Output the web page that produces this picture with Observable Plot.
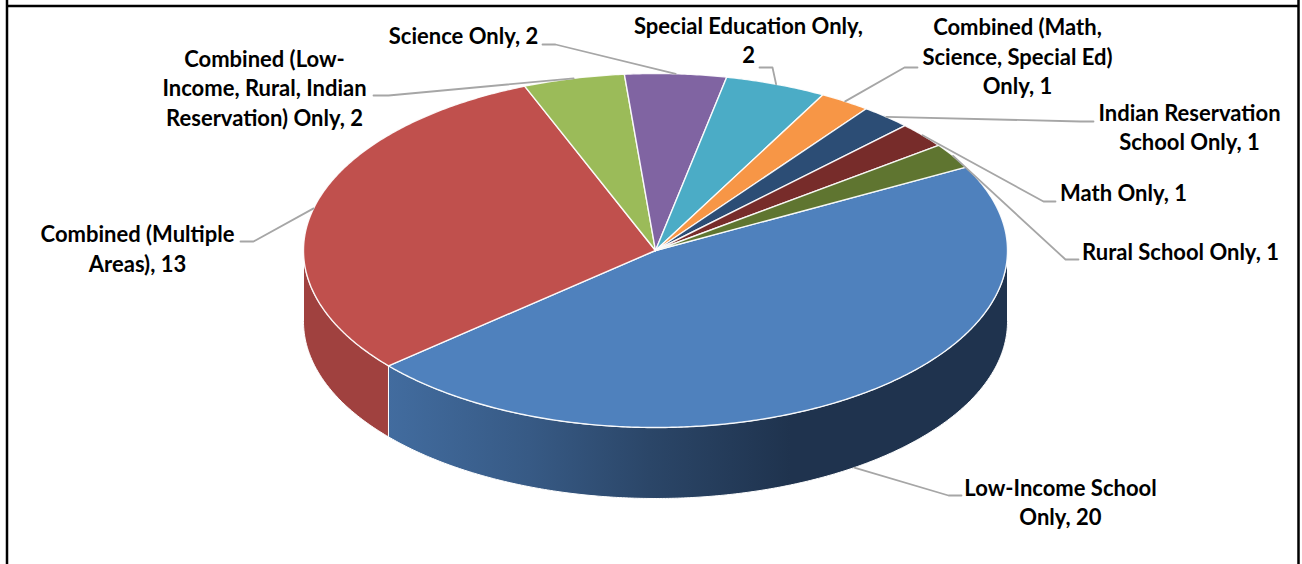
<!DOCTYPE html>
<html>
<head>
<meta charset="utf-8">
<style>html,body{margin:0;padding:0;background:#fff}svg{display:block}</style>
<script src="https://cdn.jsdelivr.net/npm/d3@7"></script>
<script src="https://cdn.jsdelivr.net/npm/@observablehq/plot@0.6"></script>
</head>
<body>
<div id="chart"></div>
<script>
// Data
const categories = ["Low-Income School Only","Combined (Multiple Areas)","Combined (Low-Income, Rural, Indian Reservation) Only","Science Only","Special Education Only","Combined (Math, Science, Special Ed) Only","Indian Reservation School Only","Math Only","Rural School Only"];
const values = [20,13,2,2,2,1,1,1,1];
const labelLines = ["Low-Income School\nOnly, 20","Combined (Multiple\nAreas), 13","Combined (Low-\nIncome, Rural, Indian\nReservation) Only, 2","Science Only, 2","Special Education Only,\n2","Combined (Math,\nScience, Special Ed)\nOnly, 1","Indian Reservation\nSchool Only, 1","Math Only, 1","Rural School Only, 1"];
const topColors = ["#4f81bd","#c0504d","#9bbb59","#8064a2","#4bacc6","#f79646","#2c4d75","#772c2a","#5f7530"];
const wallColors = ["url(#wallBlue)","#a0413f","#7c9647","#664f82","#3c899e","#c57738","#233d5d","#5f2322","#4c5d26"];

// Layout of the pie and its labels
const W = 1302, H = 564;
const pie = {cx: 655, cy: 250, rx: 352, ry: 177, depth: 71, start: 61.9};
const labelX = [1060,137,264,463,748,1017,1189,1123,1180];
const labelY = [500.5,247,86.5,34.5,38.5,55,125.5,191,250];
const elbowX = [[961,948],[240,253],[373,388],[542,555],[759,772],[917,904],[1093,1080],[1055,1043],[1078,1065]];
const elbowY = [495,241,95,44,67,67,121,201,259];

const rad = a => a * Math.PI / 180;
const px = a => pie.cx + pie.rx * Math.sin(rad(a));
const py = (a, dz = 0) => pie.cy - pie.ry * Math.cos(rad(a)) + dz;

const unit = 360 / d3.sum(values);
let acc = pie.start;
const slices = categories.map((name, i) => {
  const a0 = acc, a1 = acc + values[i] * unit;
  acc = a1;
  return {name, i, a0, a1, mid: (a0 + a1) / 2};
});

const arc = (a0, a1, dz = 0) => {
  const n = Math.max(2, Math.ceil((a1 - a0) / 0.5));
  return d3.range(n + 1).map(k => {
    const a = a0 + (a1 - a0) * k / n;
    return {x: px(a), y: py(a, dz)};
  });
};

// Top faces
const topPts = slices.flatMap(s => {
  const c = {x: pie.cx, y: pie.cy};
  return [c, ...arc(s.a0, s.a1), c].map(p => ({...p, z: s.name, fill: topColors[s.i]}));
});

// Outer wall: only the part of a slice facing the viewer (90°..270°)
const wallPts = slices.flatMap(s => {
  const lo = Math.max(s.a0, 90), hi = Math.min(s.a1, 270);
  if (hi <= lo) return [];
  const up = arc(lo, hi), down = arc(lo, hi, pie.depth).reverse();
  return [...up, ...down, up[0]].map(p => ({...p, z: s.name, fill: wallColors[s.i]}));
});

// Leaders: from the slice's mid angle through the elbow to the label
const leaderPts = slices.flatMap(s => {
  const dz = s.mid > 90 && s.mid < 270 ? pie.depth : 0;
  return [
    {x: elbowX[s.i][0], y: elbowY[s.i], z: s.name},
    {x: elbowX[s.i][1], y: elbowY[s.i], z: s.name},
    {x: px(s.mid), y: py(s.mid, dz), z: s.name}
  ];
});

const labels = slices.map(s => ({text: labelLines[s.i], x: labelX[s.i], y: labelY[s.i]}));

const gradient = (index, {x}) => {
  const defs = d3.create("svg:defs");
  const g = defs.append("linearGradient").attr("id", "wallBlue")
    .attr("gradientUnits", "userSpaceOnUse")
    .attr("x1", x(387)).attr("x2", x(790)).attr("y1", 0).attr("y2", 0);
  [[0,"#426c9f"],[0.35,"#375a85"],[0.65,"#2b4668"],[1,"#1f334e"]].forEach(([o, c]) =>
    g.append("stop").attr("offset", o).attr("stop-color", c));
  return defs.node();
};

const chart = Plot.plot({
  width: W, height: H,
  margin: 0,
  x: {domain: [0, W], range: [0, W], axis: null},
  y: {domain: [0, H], range: [0, H], axis: null},
  color: {type: "identity"},
  marks: [
    gradient,
    Plot.ruleX([6.5, 1298], {stroke: "#000", strokeWidth: 2.5}),
    Plot.ruleY([5.5], {x1: 6, x2: 1299, stroke: "#000", strokeWidth: 2.5}),
    Plot.line(wallPts, {x: "x", y: "y", z: "z", fill: "fill", stroke: "#fff", strokeWidth: 1}),
    Plot.line(topPts, {x: "x", y: "y", z: "z", fill: "fill", stroke: "#fff", strokeWidth: 1.4, strokeOpacity: 0.9}),
    Plot.line(leaderPts, {x: "x", y: "y", z: "z", stroke: "#a6a6a6", strokeWidth: 1.8}),
    Plot.text(labels, {
      x: "x", y: "y", text: "text",
      fontFamily: "Lato", fontWeight: 700, fontSize: 22, lineHeight: 1.34,
      fill: "#000", textAnchor: "middle"
    })
  ]
});
document.getElementById("chart").append(chart);
</script>
</body>
</html>
